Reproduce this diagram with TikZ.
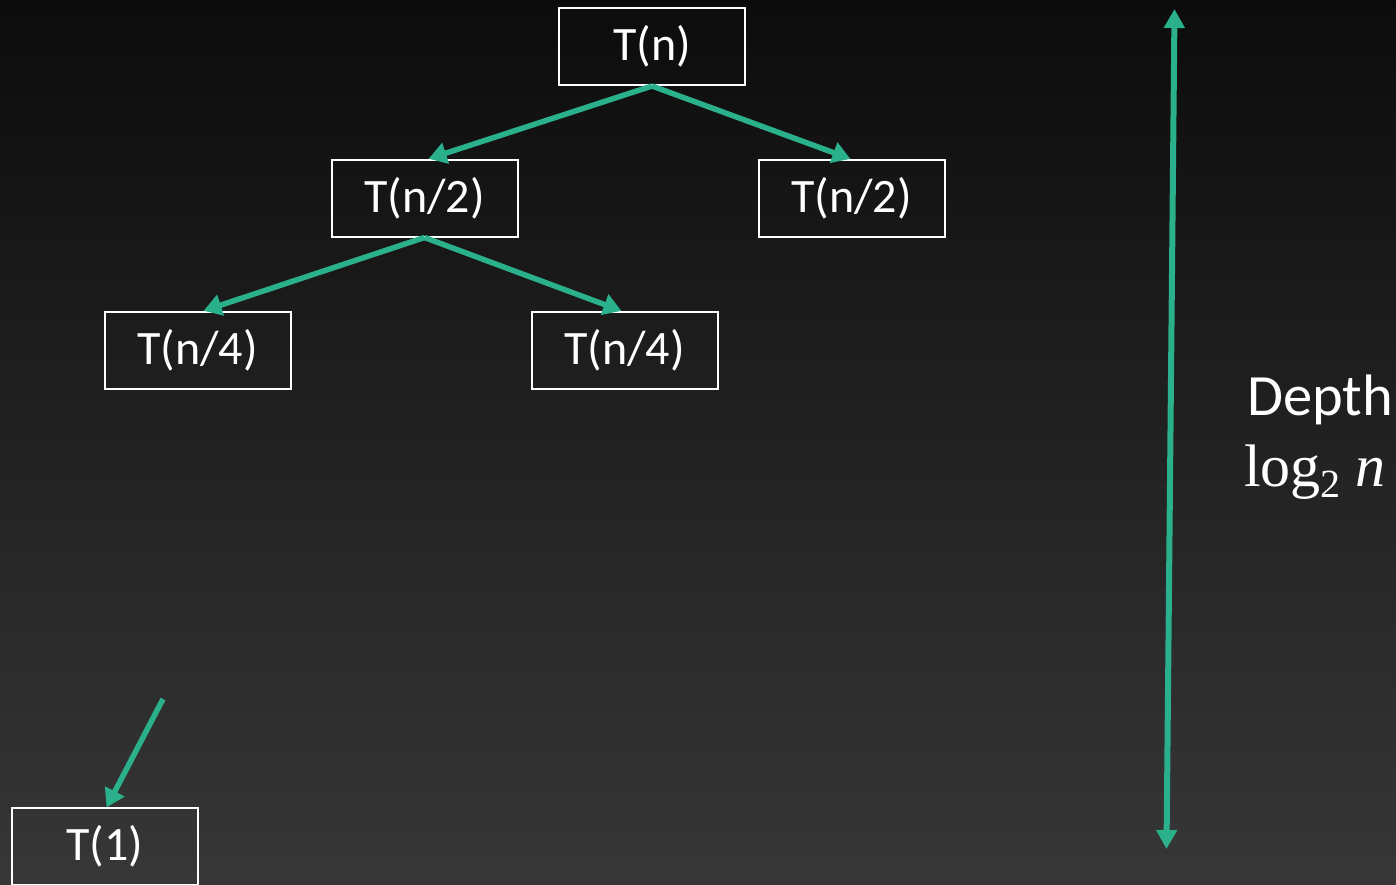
\documentclass[tikz,border=0pt]{standalone}
\usepackage{fontspec}
\setmainfont{Carlito}
\newfontfamily\formulafont{Liberation Serif}
\usetikzlibrary{arrows.meta}
\definecolor{edgegreen}{HTML}{2AB08A}
\definecolor{bgtop}{HTML}{0C0C0C}
\definecolor{bgbot}{HTML}{373737}
\tikzset{
  box/.style={draw=white, line width=2pt, minimum width=186pt, minimum height=77pt,
    inner sep=0pt, text=white, font=\fontsize{48}{58}\selectfont},
  edge/.style={draw=edgegreen, line width=5.5pt, -{Triangle[length=18pt,width=21pt]}, shorten >=-1pt},
  span/.style={draw=edgegreen, line width=6pt, {Triangle[length=19pt,width=20pt]}-{Triangle[length=19pt,width=20pt]}},
  lbl/.style={text=white, inner sep=0pt, font=\fontsize{58.5}{68}\selectfont}
}
\begin{document}
\begin{tikzpicture}[x=1pt,y=1pt]
  % background
  \shade[top color=bgtop, bottom color=bgbot] (0,0) rectangle (1396,-884);
  \useasboundingbox (0,0) rectangle (1396,-884);

  % tree nodes
  \node[box] (root) at (652,-46.5) {T(n)};
  \node[box] (l)    at (424.5,-198) {T(n/2)};
  \node[box] (r)    at (851.5,-198) {T(n/2)};
  \node[box] (ll)   at (197.5,-350) {T(n/4)};
  \node[box] (lr)   at (624.5,-350) {T(n/4)};
  \node[box] (leaf) at (105,-846) {T(1)};

  % edges
  \draw[edge] (root.south) -- ([xshift=5pt]l.north);
  \draw[edge] (root.south) -- ([xshift=-2pt]r.north);
  \draw[edge] (l.south) -- ([xshift=7pt]ll.north);
  \draw[edge] (l.south) -- ([xshift=-4pt]lr.north);
  \coordinate (cut) at (163,-699);
  \draw[edge] (cut) -- ([xshift=2pt]leaf.north);

  % depth marker
  \coordinate (dtop) at (1174.5,-9);
  \coordinate (dbot) at (1166.5,-849);
  \draw[span] (dtop) -- (dbot);
  \node[lbl, anchor=base west] (depth) at (1247,-415) {Depth};
  \node[lbl, anchor=base west] (logn) at (1244,-486)
    {\formulafont\fontsize{60}{70}\selectfont log\raisebox{-11pt}{\fontsize{40}{42}\selectfont 2}\hspace{15pt}\textit{n}};
\end{tikzpicture}
\end{document}
